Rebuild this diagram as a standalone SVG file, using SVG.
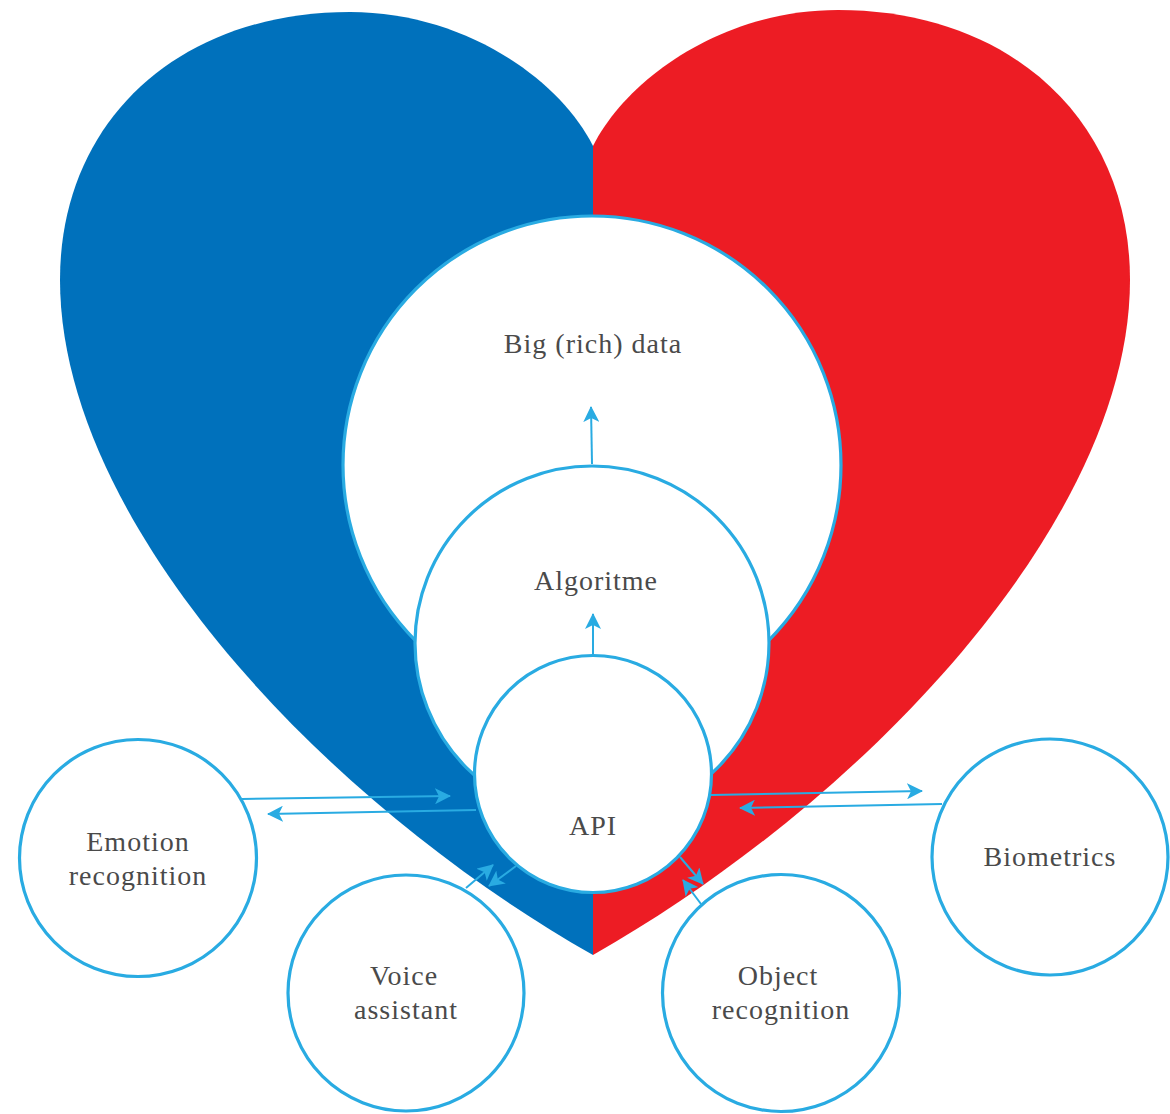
<svg xmlns="http://www.w3.org/2000/svg" width="1170" height="1114" viewBox="0 0 1170 1114">
<defs>
<style>
.node{fill:#fff;stroke:#29ABE2;stroke-width:3.2}
.lbl{font-family:"Liberation Serif","DejaVu Serif",serif;font-size:28px;fill:#4a4a4a;text-anchor:middle;letter-spacing:1px}
.arr{stroke:#29ABE2;stroke-width:2;fill:none;marker-end:url(#ah)}
</style>
<marker id="ah" viewBox="0 0 16 16" refX="15" refY="8" markerWidth="16" markerHeight="16" markerUnits="userSpaceOnUse" orient="auto">
<path d="M0,0 L16,8 L0,16 L4,8 Z" fill="#29ABE2"/>
</marker>
</defs>
<g id="heart">
<path d="M593,146 C560,80 465,12 350,12 C180,12 60,120 60,280 C60,520 320,800 593,955 Z" fill="#0071BC"/>
<path d="M593,146 C626,80 721,10 838,10 C1010,10 1130,120 1130,280 C1130,520 866,800 593,955 Z" fill="#ED1C24"/>
</g>
<g id="bigdata">
<circle class="node" cx="592" cy="465" r="249"/>
<text class="lbl" x="593" y="353">Big (rich) data</text>
</g>
<g id="algoritme">
<circle class="node" cx="592" cy="643" r="177"/>
<text class="lbl" x="596" y="590">Algoritme</text>
</g>
<g id="api">
<circle class="node" cx="593" cy="774" r="118.5"/>
<text class="lbl" x="593" y="835">API</text>
</g>
<g id="emotion">
<circle class="node" cx="138" cy="858" r="118.5"/>
<text class="lbl" x="138" y="851">Emotion</text>
<text class="lbl" x="138" y="885">recognition</text>
</g>
<g id="voice">
<circle class="node" cx="406" cy="993" r="118"/>
<text class="lbl" x="404" y="985">Voice</text>
<text class="lbl" x="406" y="1019">assistant</text>
</g>
<g id="object">
<circle class="node" cx="781" cy="993" r="118.5"/>
<text class="lbl" x="778" y="985">Object</text>
<text class="lbl" x="781" y="1019">recognition</text>
</g>
<g id="biometrics">
<circle class="node" cx="1050" cy="857" r="118"/>
<text class="lbl" x="1050" y="866">Biometrics</text>
</g>
<g id="connectors">
<line class="arr" x1="592" y1="464" x2="591" y2="407"/>
<line class="arr" x1="593" y1="655" x2="593" y2="614"/>
<line class="arr" x1="242" y1="799" x2="450" y2="796"/>
<line class="arr" x1="476" y1="810" x2="268" y2="814"/>
<line class="arr" x1="711" y1="795" x2="922" y2="791"/>
<line class="arr" x1="942" y1="804" x2="740" y2="808"/>
<line class="arr" x1="466" y1="888" x2="493" y2="865"/>
<line class="arr" x1="516" y1="866" x2="489" y2="886"/>
<line class="arr" x1="680" y1="857" x2="703" y2="884"/>
<line class="arr" x1="701" y1="904" x2="683" y2="880"/>
</g>
</svg>
